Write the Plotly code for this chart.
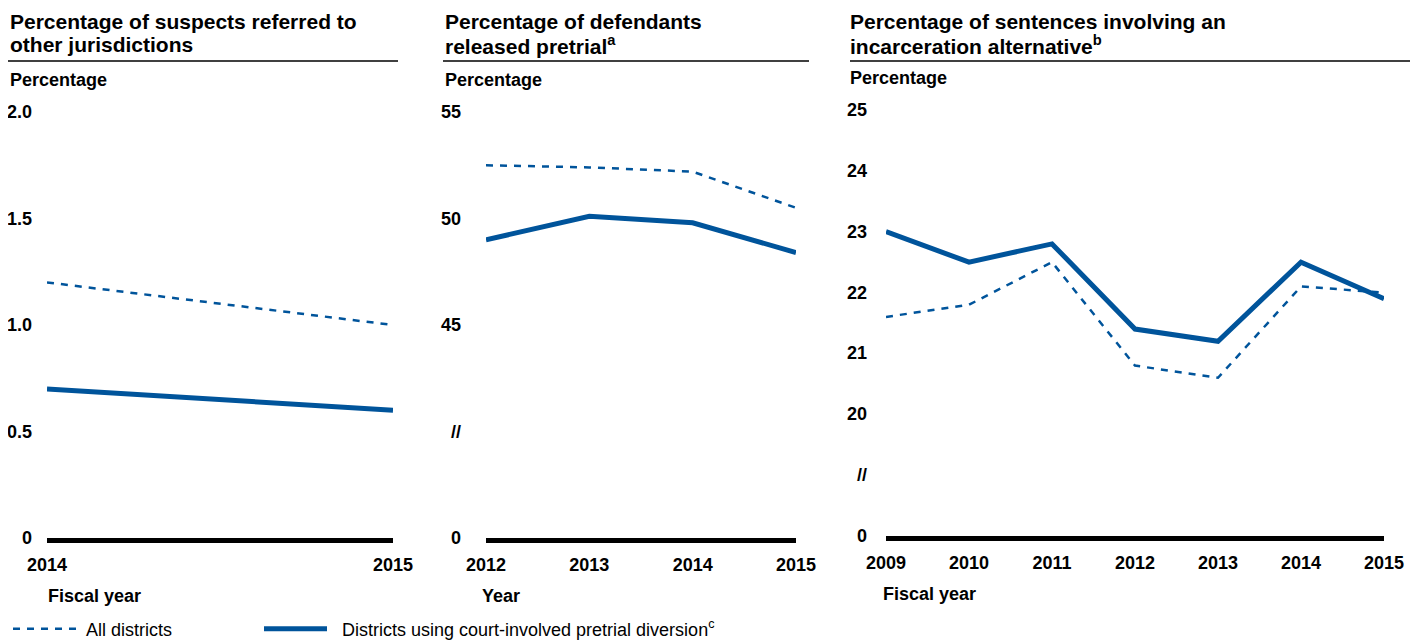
import plotly.graph_objects as go

# ---------------- data ----------------
p1_years = [2014, 2015]
p1_all = [1.2, 1.0]
p1_court = [0.7, 0.6]
p1_ytick_vals = [0, 0.5, 1.0, 1.5, 2.0]
p1_ytick_text = ["0", "0.5", "1.0", "1.5", "2.0"]

p2_years = [2012, 2013, 2014, 2015]
p2_all = [52.5, 52.4, 52.2, 50.5]
p2_court = [49.0, 50.1, 49.8, 48.4]
p2_ytick_vals = [35, 40, 45, 50, 55]
p2_ytick_text = ["0", "//", "45", "50", "55"]

p3_years = [2009, 2010, 2011, 2012, 2013, 2014, 2015]
p3_all = [21.6, 21.8, 22.5, 20.8, 20.6, 22.1, 22.0]
p3_court = [23.0, 22.5, 22.8, 21.4, 21.2, 22.5, 21.9]
p3_ytick_vals = [18, 19, 20, 21, 22, 23, 24, 25]
p3_ytick_text = ["0", "//", "20", "21", "22", "23", "24", "25"]

titles = [
    ["Percentage of suspects referred to", "other jurisdictions"],
    ["Percentage of defendants", "released pretrial<sup>a</sup>"],
    ["Percentage of sentences involving an", "incarceration alternative<sup>b</sup>"],
]
xtitles = ["Fiscal year", "Year", "Fiscal year"]
series_names = ["All districts", "Districts using court-involved pretrial diversion<sup>c</sup>"]

# ---------------- layout helpers ----------------
# the page body has an 8px margin, so the figure fills the rest of the window
OFF = 8
W, H = 1418 - OFF, 641 - OFF
FONT = "Liberation Sans, Arial, sans-serif"
BLUE = "#00549b"


def px(x):
    return (x - OFF) / W


def py(y):
    return 1 - (y - OFF) / H


fig = go.Figure()

panels = [
    dict(years=p1_years, all=p1_all, court=p1_court, yv=p1_ytick_vals, yt=p1_ytick_text,
         xdom=(47, 393), ydom=(538, 112), yrange=(0, 2.0), text_x=10, tick_right=34,
         rule=(8, 398), ylab_y=80, xt_y=596, xt_x=48),
    dict(years=p2_years, all=p2_all, court=p2_court, yv=p2_ytick_vals, yt=p2_ytick_text,
         xdom=(486, 796), ydom=(538, 112), yrange=(35, 55), text_x=445, tick_right=463,
         rule=(443, 809), ylab_y=80, xt_y=596, xt_x=482),
    dict(years=p3_years, all=p3_all, court=p3_court, yv=p3_ytick_vals, yt=p3_ytick_text,
         xdom=(886, 1384), ydom=(536, 110), yrange=(18, 25), text_x=850, tick_right=869,
         rule=(850, 1410), ylab_y=78, xt_y=594, xt_x=883),
]

annotations = []
shapes = []

for i, p in enumerate(panels):
    n = "" if i == 0 else str(i + 1)
    xa, ya = "x" + n, "y" + n
    fig.add_trace(go.Scatter(
        x=p["years"], y=p["all"], xaxis=xa, yaxis=ya, mode="lines",
        line=dict(color=BLUE, width=2.5, dash="7px,7px"),
        name="\u00a0" + series_names[0], showlegend=(i == 0), legend="legend",
    ))
    fig.add_trace(go.Scatter(
        x=p["years"], y=p["court"], xaxis=xa, yaxis=ya, mode="lines",
        line=dict(color=BLUE, width=5),
        name="\u00a0\u00a0" + series_names[1], showlegend=(i == 0), legend="legend2",
    ))
    xdom = [px(p["xdom"][0]), px(p["xdom"][1])]
    ydom = [py(p["ydom"][0]), py(p["ydom"][1])]
    fig.update_layout(**{
        "xaxis" + n: dict(
            domain=xdom, range=[p["years"][0], p["years"][-1]], anchor=ya,
            tickvals=p["years"], ticktext=[str(v) for v in p["years"]],
            showgrid=False, zeroline=False, showline=True, linecolor="black", linewidth=5,
            ticks="", ticklabelstandoff=6,
            tickfont=dict(family=FONT, size=18, color="black", weight="bold"),
        ),
        "yaxis" + n: dict(
            domain=ydom, range=list(p["yrange"]), anchor=xa,
            showgrid=False, zeroline=False, showline=False, showticklabels=False, ticks="",
        ),
    })
    # y tick labels, right aligned at the left of each panel
    for v, t in zip(p["yv"], p["yt"]):
        annotations.append(dict(
            x=px(p["tick_right"]), xref="paper", xanchor="right", y=v, yref=ya,
            yanchor="middle", text=t, showarrow=False,
            font=dict(family=FONT, size=18, color="black", weight="bold"),
        ))
    # panel title (two lines)
    for line, yc in zip(titles[i], (22, 45)):
        annotations.append(dict(
            x=px(p["text_x"] - 2), xref="paper", xanchor="left", y=py(yc), yref="paper",
            yanchor="middle", text=line, showarrow=False, align="left",
            font=dict(family=FONT, size=21, color="black", weight="bold"),
        ))
    # y axis label
    annotations.append(dict(
        x=px(p["text_x"] - 2), xref="paper", xanchor="left", y=py(p["ylab_y"]), yref="paper",
        yanchor="middle", text="Percentage", showarrow=False,
        font=dict(family=FONT, size=18, color="black", weight="bold"),
    ))
    # x axis title
    annotations.append(dict(
        x=px(p["xt_x"] - 2), xref="paper", xanchor="left", y=py(p["xt_y"]), yref="paper",
        yanchor="middle", text=xtitles[i], showarrow=False,
        font=dict(family=FONT, size=18, color="black", weight="bold"),
    ))
    # rule under the title
    shapes.append(dict(type="line", xref="paper", yref="paper",
                       x0=px(p["rule"][0]), x1=px(p["rule"][1]), y0=py(61), y1=py(61),
                       line=dict(color="black", width=1.3)))

legend_common = dict(
    orientation="h", yanchor="middle", y=py(629), xanchor="left",
    itemwidth=63, font=dict(family=FONT, size=18, color="black"),
    bgcolor="rgba(0,0,0,0)",
)

fig.update_layout(
    width=W, height=H,
    margin=dict(l=0, r=0, t=0, b=0, autoexpand=False),
    paper_bgcolor="white", plot_bgcolor="white",
    annotations=annotations, shapes=shapes,
    showlegend=True,
    legend=dict(x=px(OFF), **legend_common),
    legend2=dict(x=px(OFF + 251), **legend_common),
)

fig.write_html("out.html")
